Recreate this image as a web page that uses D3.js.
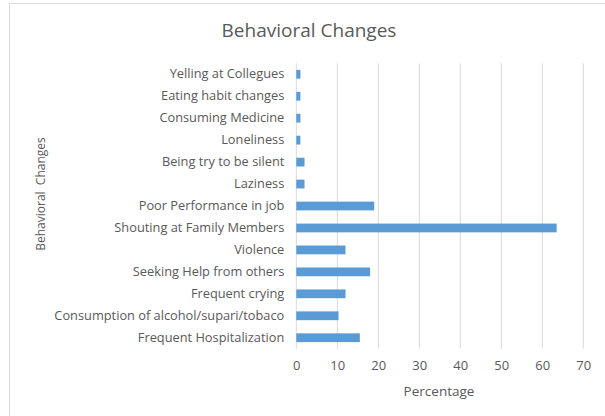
<!DOCTYPE html>
<html>
<head>
<meta charset="utf-8">
<script src="https://cdn.jsdelivr.net/npm/d3@7"></script>
<style>
  html, body { margin: 0; padding: 0; background: #fff; }
  svg text { font-family: "Open Sans", "Noto Sans", sans-serif; fill: #595959; }
</style>
</head>
<body>
<svg id="chart" width="605" height="416"></svg>
<script>
// Behaviour categories, top to bottom
const categories = [
  "Yelling at Collegues",
  "Eating habit changes",
  "Consuming Medicine",
  "Loneliness",
  "Being try to be silent",
  "Laziness",
  "Poor Performance in job",
  "Shouting at Family Members",
  "Violence",
  "Seeking Help from others",
  "Frequent crying",
  "Consumption of alcohol/supari/tobaco",
  "Frequent Hospitalization"
];
// Percentage of respondents per category
const percentages = [1, 1, 1, 1, 2, 2, 19, 63.5, 12, 18, 12, 10.3, 15.5];
const xTicks = [0, 10, 20, 30, 40, 50, 60, 70];

const svg = d3.select("#chart");
const W = 605, H = 416;
const plot = { left: 296.3, right: 583.3, top: 63.3, bottom: 348.7 };

// chart area border
svg.append("rect")
  .attr("x", 9.5).attr("y", 3.5)
  .attr("width", W + 10).attr("height", H + 10)
  .attr("fill", "none").attr("stroke", "#d9d9d9");

const x = d3.scaleLinear().domain([0, 70]).range([plot.left, plot.right]);
const y = d3.scaleBand().domain(categories).range([plot.top, plot.bottom])
  .paddingInner(0.6).paddingOuter(0.3);

// vertical gridlines
svg.append("g").selectAll("line").data(xTicks).join("line")
  .attr("x1", d => x(d)).attr("x2", d => x(d))
  .attr("y1", plot.top).attr("y2", plot.bottom)
  .attr("stroke", "#d9d9d9").attr("stroke-width", 1);

// bars
svg.append("g").selectAll("rect").data(categories).join("rect")
  .attr("x", x(0))
  .attr("y", d => y(d))
  .attr("width", (d, i) => x(percentages[i]) - x(0))
  .attr("height", y.bandwidth())
  .attr("fill", "#5b9bd5");

// x axis tick labels
const xAxis = d3.axisBottom(x).tickValues(xTicks).tickSize(0).tickPadding(0);
const gx = svg.append("g").attr("transform", `translate(0, ${plot.bottom + 12})`).call(xAxis);
gx.select(".domain").remove();
gx.selectAll("text").attr("font-size", 13).attr("dy", "0.71em")
  .style("font-family", "'Open Sans', sans-serif").attr("fill", "#595959");

// y axis category labels
const yAxis = d3.axisLeft(y).tickSize(0).tickPadding(12);
const gy = svg.append("g").attr("transform", `translate(${plot.left}, 0)`).call(yAxis);
gy.select(".domain").remove();
gy.selectAll("text").attr("font-size", 12.8)
  .style("font-family", "'Open Sans', sans-serif").attr("fill", "#595959");

// titles
svg.append("text")
  .attr("x", 309).attr("y", 37)
  .attr("text-anchor", "middle").attr("font-size", 19)
  .text("Behavioral Changes");

svg.append("text")
  .attr("x", 439).attr("y", 396)
  .attr("text-anchor", "middle").attr("font-size", 13.5)
  .text("Percentage");

svg.append("text")
  .attr("transform", "translate(45, 194) rotate(-90)")
  .attr("text-anchor", "middle").attr("font-size", 12)
  .style("white-space", "pre")
  .text("Behavioral  Changes");
</script>
</body>
</html>
